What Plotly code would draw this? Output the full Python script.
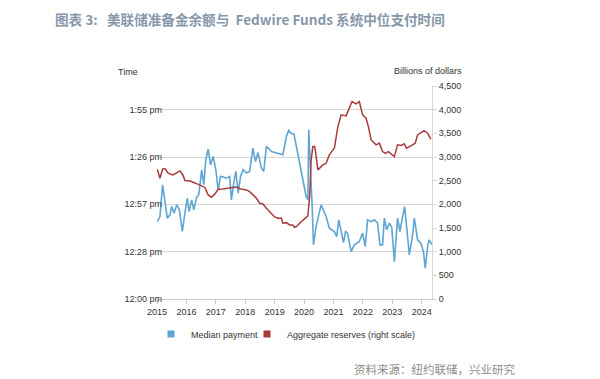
import plotly.graph_objects as go

# Median payment time (minutes after 12:00 pm), x in decimal years
pay_t = [2015.01, 2015.10, 2015.19, 2015.27, 2015.35, 2015.44, 2015.50, 2015.58, 2015.67, 2015.76,
         2015.86, 2015.95, 2016.03, 2016.09, 2016.18, 2016.25, 2016.35, 2016.42, 2016.52, 2016.59,
         2016.66, 2016.74, 2016.82, 2016.91, 2017.00, 2017.08, 2017.16, 2017.24, 2017.36, 2017.47,
         2017.53, 2017.61, 2017.68, 2017.76, 2017.84, 2017.93, 2018.04, 2018.15, 2018.26, 2018.35,
         2018.43, 2018.55, 2018.63, 2018.72, 2018.89, 2019.03, 2019.28, 2019.40, 2019.48, 2019.57,
         2019.65, 2019.74, 2019.85, 2019.96, 2020.07, 2020.13, 2020.16, 2020.28, 2020.32, 2020.41,
         2020.58, 2020.75, 2020.86, 2021.03, 2021.11, 2021.18, 2021.26, 2021.34, 2021.41, 2021.48,
         2021.60, 2021.71, 2021.88, 2021.99, 2022.08, 2022.16, 2022.28, 2022.39, 2022.50, 2022.58,
         2022.67, 2022.73, 2022.81, 2022.90, 2022.98, 2023.07, 2023.18, 2023.26, 2023.33, 2023.42,
         2023.49, 2023.58, 2023.69, 2023.75, 2023.86, 2023.97, 2024.06, 2024.12, 2024.20, 2024.25,
         2024.35]
pay_min = [47.0, 50.1, 69.4, 60.2, 49.1, 51.1, 56.2, 52.1, 57.2, 54.2,
           41.0, 52.1, 61.3, 53.1, 60.2, 54.2, 61.9, 63.3, 78.5, 69.4,
           84.6, 91.1, 81.5, 86.6, 78.5, 66.3, 74.4, 74.2, 73.4, 74.4,
           60.2, 70.4, 77.5, 64.3, 74.4, 78.5, 76.5, 77.5, 91.7, 83.5,
           89.0, 79.5, 77.5, 92.7, 89.6, 88.8, 87.6, 98.8, 102.4, 100.4,
           100.4, 92.7, 82.6, 72.4, 62.3, 60.2, 102.8, 54.2, 32.9, 44.0,
           57.2, 50.1, 43.0, 41.0, 37.9, 48.1, 40.0, 34.3, 41.0, 40.0,
           28.8, 32.9, 34.9, 40.0, 31.8, 48.1, 47.0, 48.1, 46.1, 32.9,
           32.9, 49.1, 42.0, 46.1, 43.8, 22.7, 49.1, 41.0, 48.1, 56.2,
           43.2, 26.8, 38.9, 49.1, 35.9, 33.9, 28.8, 18.7, 31.8, 35.9,
           32.9]

# Aggregate reserves (billions of dollars)
res_t = [2015.01, 2015.10, 2015.19, 2015.27, 2015.38, 2015.54, 2015.78, 2015.88, 2015.95, 2016.12,
         2016.29, 2016.52, 2016.63, 2016.74, 2016.85, 2016.97, 2017.08, 2017.24, 2017.53, 2017.68,
         2017.85, 2018.04, 2018.15, 2018.25, 2018.38, 2018.49, 2018.60, 2018.72, 2018.83, 2018.94,
         2019.00, 2019.11, 2019.23, 2019.28, 2019.40, 2019.51, 2019.61, 2019.68, 2019.75, 2019.85,
         2020.02, 2020.13, 2020.19, 2020.24, 2020.30, 2020.36, 2020.39, 2020.47, 2020.58, 2020.64,
         2020.75, 2020.86, 2020.98, 2021.03, 2021.15, 2021.26, 2021.43, 2021.54, 2021.63, 2021.77,
         2021.88, 2021.99, 2022.11, 2022.19, 2022.28, 2022.45, 2022.56, 2022.67, 2022.76, 2022.87,
         2023.01, 2023.07, 2023.18, 2023.31, 2023.41, 2023.48, 2023.63, 2023.78, 2023.86, 2023.97,
         2024.08, 2024.20, 2024.31]
res_val = [2742, 2552, 2742, 2755, 2657, 2621, 2706, 2621, 2501, 2494,
           2452, 2389, 2357, 2199, 2150, 2220, 2319, 2325, 2353, 2368,
           2325, 2304, 2268, 2199, 2129, 2023, 2008, 1917, 1839, 1755,
           1733, 1706, 1706, 1600, 1613, 1564, 1564, 1516, 1533, 1600,
           1706, 1755, 2163, 2938, 3220, 3220, 3114, 2727, 2797, 2833,
           2869, 3044, 3150, 3186, 3642, 3890, 3869, 4031, 4171, 4122,
           4171, 3890, 3820, 3636, 3361, 3256, 3292, 3114, 3076, 3114,
           3044, 3008, 3256, 3245, 3277, 3186, 3234, 3292, 3467, 3516,
           3558, 3503, 3376]

years = [2015, 2016, 2017, 2018, 2019, 2020, 2021, 2022, 2023, 2024]
left_ticks = [0, 28.75, 57.5, 86.25, 115]
left_labels = ["12:00 pm", "12:28 pm", "12:57 pm", "1:26 pm", "1:55 pm"]
right_ticks = [0, 500, 1000, 1500, 2000, 2500, 3000, 3500, 4000, 4500]

BLUE = "#5ea6d2"
RED = "#a83c3c"
FONT = "Liberation Sans, Arial, sans-serif"
TXT = "#333333"
# page has an 8px body margin; figure coordinates are page coordinates minus 8
W, H = 592, 371
L, R, T, B = 149, 168, 78, 80
PW, PH = W - L - R, H - T - B

fig = go.Figure()
fig.add_trace(go.Scatter(x=pay_t, y=pay_min, mode="lines", line=dict(color=BLUE, width=1.6),
                         showlegend=False, yaxis="y"))
fig.add_trace(go.Scatter(x=res_t, y=res_val, mode="lines", line=dict(color=RED, width=1.5),
                         showlegend=False, yaxis="y2"))
# legend entries with square symbols
fig.add_trace(go.Scatter(x=[None], y=[None], mode="markers", name="Median payment",
                         marker=dict(symbol="square", size=7, color=BLUE), legend="legend"))
fig.add_trace(go.Scatter(x=[None], y=[None], mode="markers", name="Aggregate reserves (right scale)",
                         marker=dict(symbol="square", size=7, color=RED), yaxis="y2",
                         legend="legend2"))

leg_common = dict(orientation="h", xref="container", yref="container", xanchor="left",
                  yanchor="middle", y=1 - 326 / H, font=dict(size=9, color=TXT),
                  itemwidth=30, bgcolor="rgba(0,0,0,0)", borderwidth=0)

fig.update_layout(
    width=W, height=H,
    margin=dict(l=L, r=R, t=T, b=B, autoexpand=False),
    paper_bgcolor="white", plot_bgcolor="white",
    font=dict(family=FONT, size=9, color=TXT),
    xaxis=dict(range=[2015, 2024.35], tickvals=years, ticktext=[str(y) for y in years],
               showgrid=False, zeroline=False, showline=True, linecolor="#c8c8c8", linewidth=1,
               ticks="outside", ticklen=4, tickcolor="#c8c8c8", automargin=False,
               tickfont=dict(size=9, color=TXT)),
    yaxis=dict(range=[0, 129.375], tickvals=left_ticks, ticktext=left_labels,
               showgrid=True, gridcolor="#d6d6d6", gridwidth=1, zeroline=False, showline=False,
               ticks="", ticklen=0, ticklabelstandoff=-6, automargin=False,
               tickfont=dict(size=9, color=TXT)),
    yaxis2=dict(range=[0, 4500], tickvals=right_ticks, tickformat=",", overlaying="y", side="right",
                showgrid=False, zeroline=False, showline=True, linecolor="#d6d6d6", linewidth=1,
                ticks="outside", ticklen=4, tickcolor="#d6d6d6", automargin=False,
                tickfont=dict(size=9, color=TXT)),
    legend=dict(x=143 / W, **leg_common),
    legend2=dict(x=239 / W, **leg_common),
    showlegend=True,
)

def px(x):
    return (x - L) / PW

def py(y):
    return (H - B - y) / PH

fig.add_annotation(text="图表 3:   美联储准备金余额与  Fedwire Funds 系统中位支付时间",
                   xref="paper", yref="paper", x=px(46), y=py(0),
                   xanchor="left", yanchor="top", showarrow=False, borderpad=0,
                   font=dict(family="Noto Sans CJK SC", size=13.6, color="#8797ab", weight="bold"))
fig.add_annotation(text="Time", xref="paper", yref="paper", x=px(108), y=py(64),
                   xanchor="left", yanchor="middle", showarrow=False,
                   font=dict(family=FONT, size=9, color=TXT))
fig.add_annotation(text="Billions of dollars", xref="paper", yref="paper", x=px(456),
                   y=py(63), xanchor="right", yanchor="middle", showarrow=False,
                   font=dict(family=FONT, size=9, color=TXT))
fig.add_annotation(text="资料来源：纽约联储，兴业研究", xref="paper", yref="paper",
                   x=px(344), y=py(361), xanchor="left", yanchor="middle",
                   showarrow=False, font=dict(family="Noto Sans CJK SC", size=11.5, color="#8c8c8c"))

fig.write_html("out.html")
